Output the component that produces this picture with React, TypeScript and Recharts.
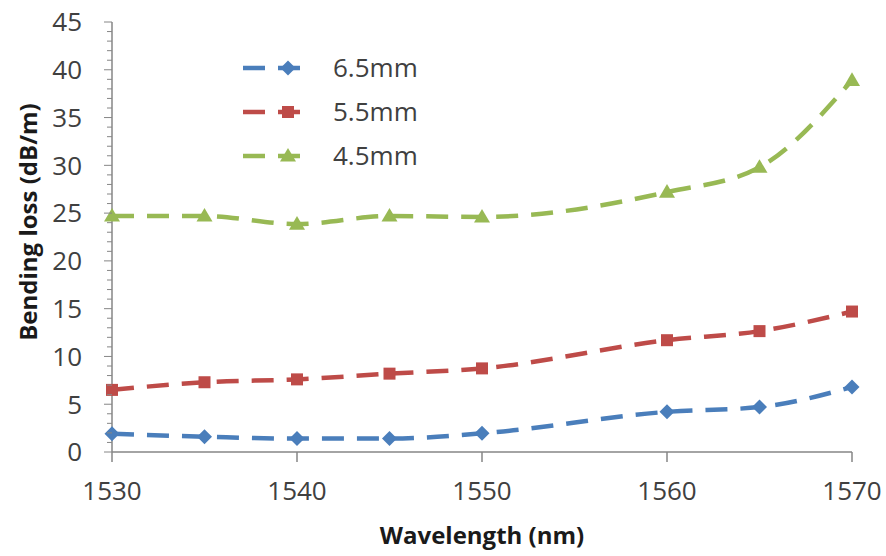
import { Legend, Line, LineChart, XAxis, YAxis } from "recharts";

const wavelengths = [1530, 1535, 1540, 1545, 1550, 1560, 1565, 1570];
const loss65 = [1.9, 1.6, 1.4, 1.4, 1.95, 4.2, 4.7, 6.8];
const loss55 = [6.5, 7.3, 7.6, 8.2, 8.75, 11.7, 12.65, 14.7];
const loss45 = [24.7, 24.7, 23.85, 24.7, 24.6, 27.2, 29.8, 38.9];
const seriesNames = ["6.5mm", "5.5mm", "4.5mm"];
const xTicks = [1530, 1540, 1550, 1560, 1570];
const yTicks = [
  0, 1, 2, 3, 4, 5, 6, 7, 8, 9, 10, 11, 12, 13, 14, 15, 16, 17, 18, 19, 20, 21, 22,
  23, 24, 25, 26, 27, 28, 29, 30, 31, 32, 33, 34, 35, 36, 37, 38, 39, 40, 41, 42, 43,
  44, 45,
];

const rows = wavelengths.map((w, i) => ({
  w,
  s65: loss65[i],
  s55: loss55[i],
  s45: loss45[i],
}));

const BLUE = "#4a7ebb";
const RED = "#be4b48";
const GREEN = "#98b954";
const AXIS = "#868686";
const FONT = "'Open Sans', sans-serif";

type Shape = "diamond" | "square" | "triangle";

function marker(shape: Shape, cx: number, cy: number, color: string, key?: string | number) {
  if (shape === "diamond") {
    const r = 7.5;
    return (
      <polygon key={key} points={`${cx},${cy - r} ${cx + r},${cy} ${cx},${cy + r} ${cx - r},${cy}`} fill={color} />
    );
  }
  if (shape === "square") {
    const h = 6;
    return <rect key={key} x={cx - h} y={cy - h} width={h * 2} height={h * 2} fill={color} />;
  }
  const r = 8;
  return (
    <polygon key={key} points={`${cx},${cy - r} ${cx + r},${cy + r * 0.7} ${cx - r},${cy + r * 0.7}`} fill={color} />
  );
}

const dotFor = (shape: Shape, color: string) => (p: any) =>
  marker(shape, p.cx, p.cy, color, `${shape}-${p.index}`);

// minor ticks every 1, labels only on multiples of 5
const YTick = (props: any) => {
  const { x, y, payload } = props;
  const v = payload.value as number;
  const major = v % 5 === 0;
  return (
    <g>
      <line x1={x - (major ? 8 : 5)} x2={x} y1={y} y2={y} stroke={AXIS} strokeWidth={1} />
      {major && (
        <text x={x - 30} y={y} dy="0.36em" textAnchor="end" fill="#404040" fontSize={26} fontFamily={FONT}>
          {v}
        </text>
      )}
    </g>
  );
};

const legendShapes: Shape[] = ["diamond", "square", "triangle"];
const legendColors = [BLUE, RED, GREEN];

const LegendBox = () => (
  <svg width={250} height={150}>
    {seriesNames.map((name, i) => {
      const y = 28 + i * 44;
      return (
        <g key={name}>
          <line x1={13} x2={77} y1={y} y2={y} stroke={legendColors[i]} strokeWidth={4.5} strokeDasharray="22 13" />
          {marker(legendShapes[i], 58, y, legendColors[i])}
          <text x={103} y={y} dy="0.36em" fill="#404040" fontSize={26} fontFamily={FONT}>
            {name}
          </text>
        </g>
      );
    })}
  </svg>
);

const YTitle = (props: any) => {
  const vb = props.viewBox || {};
  const cy = (vb.y ?? 22) + (vb.height ?? 430) / 2 - 15;
  return (
    <text
      x={37}
      y={cy}
      transform={`rotate(-90, 37, ${cy})`}
      textAnchor="middle"
      fill="#1a1a1a"
      fontSize={24}
      fontWeight="bold"
      fontFamily={FONT}
    >
      Bending loss (dB/m)
    </text>
  );
};

export default function App() {
  return (
    <div style={{ position: "absolute", left: 0, top: 0, background: "#fff" }}>
      <LineChart width={886} height={556} data={rows} margin={{ top: 22, right: 34, bottom: 0, left: 0 }}>
        <XAxis
          dataKey="w"
          type="number"
          domain={[1530, 1570]}
          ticks={xTicks}
          interval={0}
          height={104}
          stroke={AXIS}
          strokeWidth={1.5}
          tickSize={10}
          tickMargin={20}
          tick={{ fill: "#404040", fontSize: 26, fontFamily: FONT }}
          label={{
            value: "Wavelength (nm)",
            position: "insideBottom",
            offset: 12,
            fill: "#1a1a1a",
            fontSize: 24,
            fontWeight: "bold",
            fontFamily: FONT,
          }}
        />
        <YAxis
          type="number"
          domain={[0, 45]}
          ticks={yTicks}
          interval={0}
          width={112}
          stroke={AXIS}
          strokeWidth={1.5}
          tickLine={false}
          tickSize={0}
          tickMargin={0}
          tick={<YTick />}
          label={{ content: <YTitle /> }}
        />
        <Legend
          layout="vertical"
          align="center"
          verticalAlign="middle"
          wrapperStyle={{ left: 230, top: 40, width: 250, height: 150 }}
          content={() => <LegendBox />}
        />
        <Line
          dataKey="s65"
          name={seriesNames[0]}
          type="monotone"
          stroke={BLUE}
          strokeWidth={4.5}
          strokeDasharray="22 13"
          dot={dotFor("diamond", BLUE)}
          isAnimationActive={false}
        />
        <Line
          dataKey="s55"
          name={seriesNames[1]}
          type="monotone"
          stroke={RED}
          strokeWidth={4.5}
          strokeDasharray="22 13"
          dot={dotFor("square", RED)}
          isAnimationActive={false}
        />
        <Line
          dataKey="s45"
          name={seriesNames[2]}
          type="monotone"
          stroke={GREEN}
          strokeWidth={4.5}
          strokeDasharray="22 13"
          dot={dotFor("triangle", GREEN)}
          isAnimationActive={false}
        />
      </LineChart>
    </div>
  );
}
